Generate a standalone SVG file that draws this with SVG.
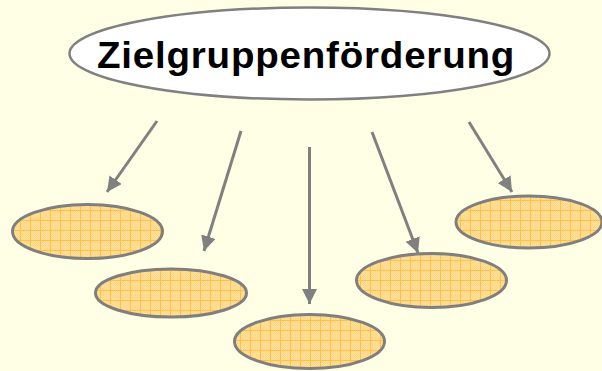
<svg xmlns="http://www.w3.org/2000/svg" width="602" height="371" viewBox="0 0 602 371">
<defs>
<pattern id="chk" width="2" height="2" patternUnits="userSpaceOnUse">
<rect width="2" height="2" fill="#FFE09A"/>
<rect width="1" height="1" fill="#FFD887"/>
<rect x="1" y="1" width="1" height="1" fill="#FFD887"/>
</pattern>
<pattern id="grid" width="10" height="10" patternUnits="userSpaceOnUse">
<rect width="10" height="10" fill="url(#chk)"/>
<path d="M0.5 0V10M0 0.5H10" stroke="#FFC14A" stroke-width="1"/>
</pattern>
<marker id="ah" markerWidth="5" markerHeight="5" refX="5" refY="2.5" orient="auto" markerUnits="strokeWidth">
<path d="M0 0L5 2.5L0 5Z" fill="#808080"/>
</marker>
</defs>
<style>
.sub{fill:url(#grid);stroke:#7F7F7F;stroke-width:3}
.con{stroke:#808080;stroke-width:3;fill:none;marker-end:url(#ah)}
.title{font-family:"Liberation Sans",Arial,sans-serif;font-weight:bold;font-size:36px;fill:#000}
</style>
<rect width="602" height="371" fill="#FFFFE5"/>
<g id="main">
<ellipse cx="309.5" cy="53.5" rx="240" ry="46" fill="#FFFFFF" stroke="#808080" stroke-width="2.5"/>
<text class="title" transform="translate(97 67.5) scale(1.07 1)" x="0" y="0" textLength="390" lengthAdjust="spacing">Zielgruppenförderung</text>
</g>
<g id="connectors">
<line class="con" x1="157" y1="121" x2="107" y2="192"/>
<line class="con" x1="241" y1="131" x2="204" y2="251"/>
<line class="con" x1="309.5" y1="147" x2="309.5" y2="304"/>
<line class="con" x1="372" y1="132" x2="418" y2="253"/>
<line class="con" x1="469" y1="122" x2="512" y2="192"/>
</g>
<g id="n1"><ellipse class="sub" cx="87.5" cy="231.5" rx="75" ry="27"/></g>
<g id="n2"><ellipse class="sub" cx="171" cy="293" rx="75.5" ry="24"/></g>
<g id="n3"><ellipse class="sub" cx="309.5" cy="341.5" rx="75" ry="27"/></g>
<g id="n4"><ellipse class="sub" cx="431.5" cy="280.5" rx="75" ry="27"/></g>
<g id="n5"><ellipse class="sub" cx="529" cy="222" rx="73" ry="26"/></g>
</svg>
